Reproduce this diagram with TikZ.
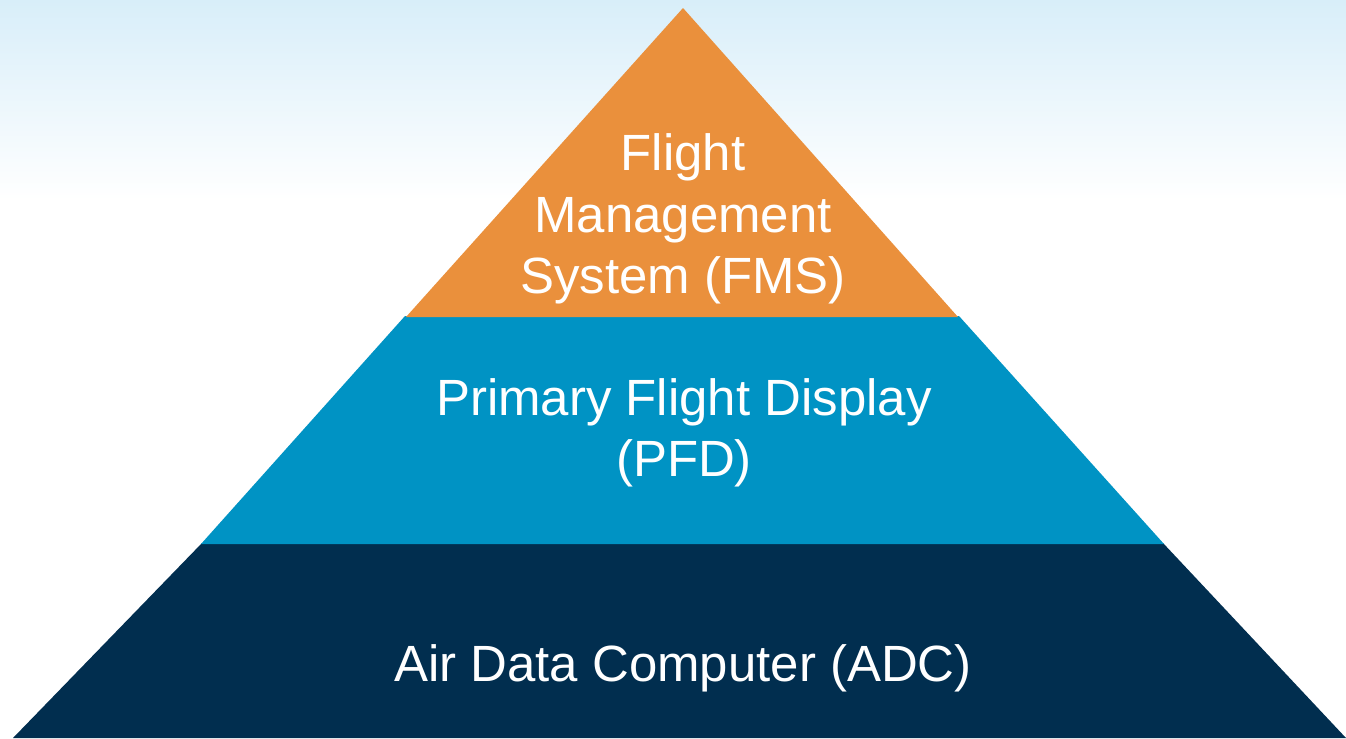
\documentclass[tikz,border=0pt]{standalone}
\usepackage{fontspec}
\setmainfont{Liberation Sans}
\definecolor{fmsorange}{RGB}{234,144,60}
\definecolor{pfdblue}{RGB}{0,147,196}
\definecolor{adcnavy}{RGB}{1,46,79}
\definecolor{skytop}{RGB}{216,238,249}
\tikzset{label/.style={text=white, align=center, font=\fontsize{29}{35}\selectfont}}

\begin{document}
\begin{tikzpicture}[x=0.02cm, y=-0.02cm]
    \useasboundingbox (0,0) rectangle (1346,738);
    \fill[white] (0,0) rectangle (1346,738);
    \shade[top color=skytop, bottom color=white] (0,0) rectangle (1346,200);
    \fill[adcnavy] (202,543) -- (1163,543) -- (1346,738) -- (13,738) -- cycle;
    \fill[pfdblue] (405,316) -- (959,316) -- (1164,544) -- (201,544) -- cycle;
    \fill[fmsorange] (683,8) -- (958,317) -- (406,317) -- cycle;
    \node[label] (fms) at (683,219) {Flight\\Management\\System (FMS)};
    \node[label] (pfd) at (684,433) {Primary Flight Display\\(PFD)};
    \node[label, anchor=base] (adc) at (683,681) {Air Data Computer (ADC)};
\end{tikzpicture}
\end{document}
